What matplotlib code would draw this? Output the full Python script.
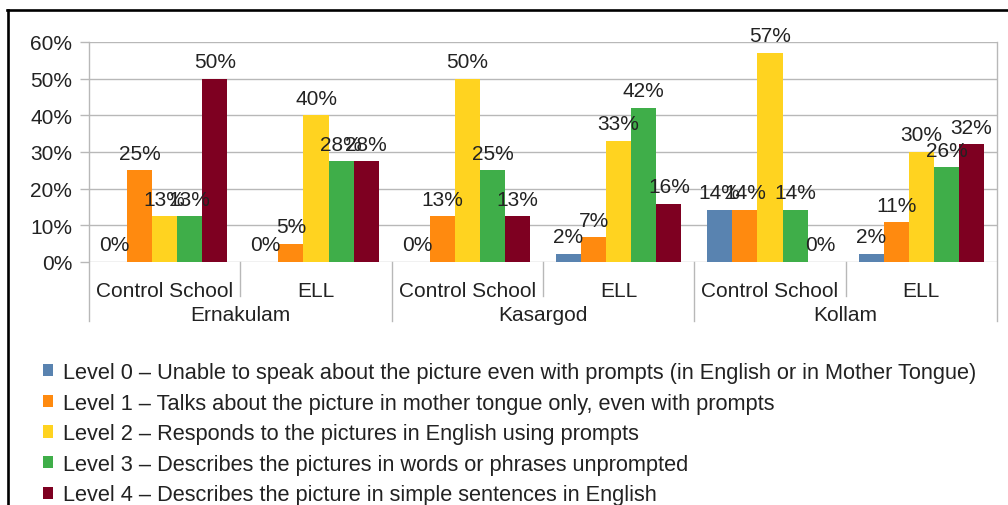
import matplotlib
matplotlib.use("Agg")
import matplotlib.pyplot as plt
import matplotlib.transforms as mtransforms
from matplotlib.lines import Line2D
import numpy as np

plt.rcParams['font.family'] = ['Liberation Sans', 'DejaVu Sans']

categories = ["Control School", "ELL", "Control School", "ELL", "Control School", "ELL"]
districts = ["Ernakulam", "Kasargod", "Kollam"]
series_names = [
    "Level 0 \u2013 Unable to speak about the picture even with prompts (in English or in Mother Tongue)",
    "Level 1 \u2013 Talks about the picture in mother tongue only, even with prompts",
    "Level 2 \u2013 Responds to the pictures in English using prompts",
    "Level 3 \u2013 Describes the pictures in words or phrases unprompted",
    "Level 4 \u2013 Describes the picture in simple sentences in English",
]
level0 = [0.0, 0.0, 0.0, 2.3, 14.3, 2.2]
level1 = [25.0, 5.0, 12.5, 6.8, 14.3, 10.9]
level2 = [12.5, 40.0, 50.0, 33.0, 57.1, 30.0]
level3 = [12.5, 27.5, 25.0, 42.0, 14.3, 25.9]
level4 = [50.0, 27.5, 12.5, 15.9, 0.0, 32.1]
yticks = [0, 10, 20, 30, 40, 50, 60]

series = [level0, level1, level2, level3, level4]
colors = ["#5983b0", "#ff8a0f", "#ffd320", "#3fae49", "#7e0021"]
text_color = "#222222"
grid_color = "#b8b8b8"
fs = 15
leg_fs = 15.7

W, H = 1008, 506
fig = plt.figure(figsize=(W / 100, H / 100), dpi=100)
ax_l, ax_r, ax_t, ax_b = 89, 997, 43, 263
ax = fig.add_axes([ax_l / W, 1 - ax_b / H, (ax_r - ax_l) / W, (ax_b - ax_t) / H])

x = np.arange(len(categories))
bw = 0.166
handles = []
for i, vals in enumerate(series):
    pos = x + (i - 2) * bw
    b = ax.bar(pos, vals, width=bw, color=colors[i], linewidth=0, zorder=3, label=series_names[i])
    handles.append(b)
    for xp, v in zip(pos, vals):
        ax.annotate(f"{int(np.floor(v + 0.5))}%", (xp, v), xytext=(0, 8.3),
                    textcoords="offset points", ha="center", va="baseline",
                    fontsize=fs, color=text_color, zorder=5)

ax.set_xlim(-0.5, len(categories) - 0.5)
ax.set_ylim(0, 60)
ax.set_yticks(yticks)
ax.set_yticklabels([f"{t}%" for t in yticks], fontsize=fs, color=text_color)
ax.tick_params(axis='y', length=6.5, width=1.0, color=grid_color, pad=5.5)
ax.set_xticks([])
for s in ax.spines.values():
    s.set_visible(False)
ax.yaxis.grid(True, color=grid_color, linewidth=1.0, zorder=0)
ax.set_axisbelow(True)

trans = mtransforms.blended_transform_factory(ax.transData, ax.transAxes)
h_px = ax_b - ax_t
cat_base = -(297 - ax_b) / h_px
grp_base = -(321 - ax_b) / h_px
sub_end = -(297 - ax_b) / h_px
grp_end = -(322 - ax_b) / h_px
top_y = 1.0

for i, c in enumerate(categories):
    ax.text(x[i], cat_base, c, transform=trans, ha="center", va="baseline",
            fontsize=fs, color=text_color)
for j, d in enumerate(districts):
    ax.text(2 * j + 0.5, grp_base, d, transform=trans, ha="center", va="baseline",
            fontsize=fs, color=text_color)

# separators
for k in range(len(categories) + 1):
    xs = k - 0.5
    if k % 2 == 0:
        y0 = grp_end
        y1 = top_y if k in (0, len(categories)) else 0
    else:
        y0 = sub_end
        y1 = 0
    ax.add_line(Line2D([xs, xs], [y0, y1], transform=trans, color=grid_color,
                       linewidth=1.0, clip_on=False, zorder=1))

leg = fig.legend(handles=handles, labels=series_names, loc="upper left",
                 bbox_to_anchor=(43 / W, 1 - 363 / H), frameon=False, fontsize=leg_fs,
                 handlelength=0.48, handleheight=0.48, handletextpad=0.45,
                 labelspacing=0.44, borderpad=0, borderaxespad=0)
for t in leg.get_texts():
    t.set_color(text_color)

# outer frame (top and left)
fig.add_artist(Line2D([7 / W, 1.0], [1 - 11 / H, 1 - 11 / H], transform=fig.transFigure,
                      color="black", linewidth=1.9))
fig.add_artist(Line2D([8 / W, 8 / W], [1 - 11 / H, 0], transform=fig.transFigure,
                      color="black", linewidth=1.9))

fig.savefig("out.png", dpi=100)
